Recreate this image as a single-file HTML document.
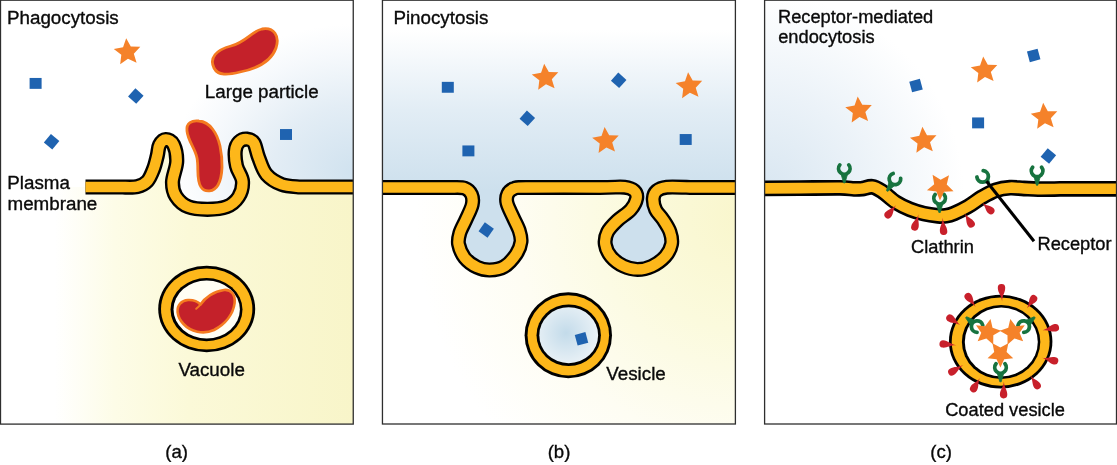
<!DOCTYPE html>
<html><head><meta charset="utf-8"><title>Endocytosis</title>
<style>
html,body{margin:0;padding:0;background:#fff;}
svg{display:block;}
text{font-family:"Liberation Sans",sans-serif;font-size:18px;fill:#0a0a0a;stroke:#0a0a0a;stroke-width:0.35px;filter:url(#gray);}
text.ab{font-size:18.8px;}
text.c{font-size:18.25px;}
text.lab{font-size:18.6px;}
</style></head><body>
<svg width="1117" height="465" viewBox="0 0 1117 465">
<defs>
  <radialGradient id="aBlue" gradientUnits="userSpaceOnUse" cx="356" cy="172" r="185" gradientTransform="translate(0,172) scale(1,0.8) translate(0,-172)">
    <stop offset="0" stop-color="#d0e2ef"/><stop offset="0.45" stop-color="#e3edf5"/><stop offset="0.8" stop-color="#f6f9fc"/><stop offset="1" stop-color="#ffffff"/>
  </radialGradient>
  <linearGradient id="aYel" gradientUnits="userSpaceOnUse" x1="55" y1="0" x2="354" y2="0">
    <stop offset="0" stop-color="#ffffff"/><stop offset="0.2" stop-color="#fdfce7"/><stop offset="0.45" stop-color="#fbf9d8"/><stop offset="1" stop-color="#f8f5c9"/>
  </linearGradient>
  <linearGradient id="bBlue" gradientUnits="userSpaceOnUse" x1="0" y1="30" x2="0" y2="190">
    <stop offset="0" stop-color="#ffffff"/><stop offset="0.5" stop-color="#e2edf5"/><stop offset="1" stop-color="#cde0ed"/>
  </linearGradient>
  <radialGradient id="bYel" gradientUnits="userSpaceOnUse" cx="745" cy="215" r="330">
    <stop offset="0" stop-color="#f9f6cc"/><stop offset="0.35" stop-color="#fbfadd"/><stop offset="0.7" stop-color="#fefdf3"/><stop offset="1" stop-color="#ffffff"/>
  </radialGradient>
  <radialGradient id="bVes" gradientUnits="userSpaceOnUse" cx="566" cy="333" r="32">
    <stop offset="0" stop-color="#c3dbea"/><stop offset="1" stop-color="#e9f1f6"/>
  </radialGradient>
  <radialGradient id="cBlue" gradientUnits="userSpaceOnUse" cx="764" cy="195" r="200">
    <stop offset="0" stop-color="#d8e6f1"/><stop offset="0.5" stop-color="#ebf2f8"/><stop offset="1" stop-color="#ffffff"/>
  </radialGradient>
  <filter id="gray" x="-5%" y="-20%" width="110%" height="140%" color-interpolation-filters="sRGB"><feColorMatrix type="saturate" values="0"/></filter>
  <clipPath id="clipA"><rect x="0" y="0" width="353.3" height="424"/></clipPath>
  <clipPath id="clipB"><rect x="382.4" y="0" width="353" height="424"/></clipPath>
  <clipPath id="clipC"><rect x="764.5" y="0" width="352" height="424"/></clipPath>
  <path id="star" d="M-1.22,-13.95 L3.40,-5.66 L12.89,-5.47 L6.43,1.48 L9.18,10.57 L0.58,6.57 L-7.21,12.00 L-6.08,2.58 L-13.64,-3.15 L-4.33,-4.98 Z" fill="#f5822a"/>
  <path id="star2" d="M-1.18,-13.45 L3.35,-5.57 L12.43,-5.27 L6.33,1.46 L8.86,10.19 L0.57,6.48 L-6.95,11.57 L-5.98,2.54 L-13.15,-3.04 L-4.26,-4.91 Z" fill="#f5822a"/>
  <rect id="sq" x="-6" y="-5.45" width="12" height="10.9" fill="#1f63b0"/>
  <rect id="dm" x="-5.5" y="-5.5" width="11" height="11" fill="#1f63b0"/>
  <g id="recC">
    <path d="M-4.47,-18.0 A5.75,5.75 0 1 0 4.47,-18.0" fill="none" stroke="#17733f" stroke-width="3.8" stroke-linecap="round"/>
    <path d="M-2.6,-8.6 L2.6,-8.6 L1.2,-5 L-1.2,-5 Z" fill="#17733f"/>
  </g>
  <g id="rec">
    <path d="M-4.47,-18.0 A5.75,5.75 0 1 0 4.47,-18.0" fill="none" stroke="#17733f" stroke-width="3.8" stroke-linecap="round"/>
    <path d="M-3.2,-8.6 L3.2,-8.6 L0.7,0 L-0.7,0 Z" fill="#17733f" stroke="#17733f" stroke-width="0.8" stroke-linejoin="round"/>
  </g>
  
</defs>

<!-- ===== PANEL A ===== -->
<g clip-path="url(#clipA)">
  <rect x="0" y="0" width="354" height="424" fill="#fff"/>
  <path d="M0,187 L122.0,187.0 C124.5,186.9 133.0,187.6 137.2,186.6 C141.4,185.6 144.7,184.0 147.4,181.1 C150.1,178.2 151.9,173.2 153.6,168.9 C155.2,164.7 156.3,159.6 157.3,155.6 C158.3,151.6 158.1,147.7 159.5,145.0 C160.9,142.3 163.5,139.6 165.8,139.5 C168.1,139.4 171.7,140.8 173.5,144.5 C175.3,148.2 176.9,155.4 176.7,161.7 C176.5,167.9 172.6,176.2 172.5,182.0 C172.4,187.8 173.4,192.3 176.0,196.4 C178.6,200.5 183.1,204.7 188.3,206.8 C193.5,209.0 201.0,209.3 207.4,209.3 C213.8,209.3 221.3,208.9 226.5,206.8 C231.7,204.8 235.8,201.2 238.5,197.0 C241.2,192.8 242.8,186.7 242.5,181.5 C242.2,176.3 237.7,171.2 236.5,166.0 C235.3,160.8 234.9,154.6 235.3,150.6 C235.7,146.6 237.1,143.9 239.0,142.0 C240.9,140.1 244.5,138.9 247.0,139.1 C249.5,139.3 252.1,139.9 254.0,143.0 C255.9,146.1 256.6,152.4 258.7,157.7 C260.8,162.9 262.6,170.0 266.5,174.5 C270.4,179.0 276.2,182.4 281.8,184.5 C287.4,186.6 297.0,186.6 300.0,187.0 H354 V0 H0 Z" fill="url(#aBlue)"/>
  <path d="M0,187 L122.0,187.0 C124.5,186.9 133.0,187.6 137.2,186.6 C141.4,185.6 144.7,184.0 147.4,181.1 C150.1,178.2 151.9,173.2 153.6,168.9 C155.2,164.7 156.3,159.6 157.3,155.6 C158.3,151.6 158.1,147.7 159.5,145.0 C160.9,142.3 163.5,139.6 165.8,139.5 C168.1,139.4 171.7,140.8 173.5,144.5 C175.3,148.2 176.9,155.4 176.7,161.7 C176.5,167.9 172.6,176.2 172.5,182.0 C172.4,187.8 173.4,192.3 176.0,196.4 C178.6,200.5 183.1,204.7 188.3,206.8 C193.5,209.0 201.0,209.3 207.4,209.3 C213.8,209.3 221.3,208.9 226.5,206.8 C231.7,204.8 235.8,201.2 238.5,197.0 C241.2,192.8 242.8,186.7 242.5,181.5 C242.2,176.3 237.7,171.2 236.5,166.0 C235.3,160.8 234.9,154.6 235.3,150.6 C235.7,146.6 237.1,143.9 239.0,142.0 C240.9,140.1 244.5,138.9 247.0,139.1 C249.5,139.3 252.1,139.9 254.0,143.0 C255.9,146.1 256.6,152.4 258.7,157.7 C260.8,162.9 262.6,170.0 266.5,174.5 C270.4,179.0 276.2,182.4 281.8,184.5 C287.4,186.6 297.0,186.6 300.0,187.0 H354 V424 H0 Z" fill="url(#aYel)"/>
</g>
<g fill="none" stroke-linejoin="round"><path d="M85.5,187 L122.0,187.0 C124.5,186.9 133.0,187.6 137.2,186.6 C141.4,185.6 144.7,184.0 147.4,181.1 C150.1,178.2 151.9,173.2 153.6,168.9 C155.2,164.7 156.3,159.6 157.3,155.6 C158.3,151.6 158.1,147.7 159.5,145.0 C160.9,142.3 163.5,139.6 165.8,139.5 C168.1,139.4 171.7,140.8 173.5,144.5 C175.3,148.2 176.9,155.4 176.7,161.7 C176.5,167.9 172.6,176.2 172.5,182.0 C172.4,187.8 173.4,192.3 176.0,196.4 C178.6,200.5 183.1,204.7 188.3,206.8 C193.5,209.0 201.0,209.3 207.4,209.3 C213.8,209.3 221.3,208.9 226.5,206.8 C231.7,204.8 235.8,201.2 238.5,197.0 C241.2,192.8 242.8,186.7 242.5,181.5 C242.2,176.3 237.7,171.2 236.5,166.0 C235.3,160.8 234.9,154.6 235.3,150.6 C235.7,146.6 237.1,143.9 239.0,142.0 C240.9,140.1 244.5,138.9 247.0,139.1 C249.5,139.3 252.1,139.9 254.0,143.0 C255.9,146.1 256.6,152.4 258.7,157.7 C260.8,162.9 262.6,170.0 266.5,174.5 C270.4,179.0 276.2,182.4 281.8,184.5 C287.4,186.6 297.0,186.6 300.0,187.0 H353" stroke="#000" stroke-width="15.2"/><path d="M85.5,187 L122.0,187.0 C124.5,186.9 133.0,187.6 137.2,186.6 C141.4,185.6 144.7,184.0 147.4,181.1 C150.1,178.2 151.9,173.2 153.6,168.9 C155.2,164.7 156.3,159.6 157.3,155.6 C158.3,151.6 158.1,147.7 159.5,145.0 C160.9,142.3 163.5,139.6 165.8,139.5 C168.1,139.4 171.7,140.8 173.5,144.5 C175.3,148.2 176.9,155.4 176.7,161.7 C176.5,167.9 172.6,176.2 172.5,182.0 C172.4,187.8 173.4,192.3 176.0,196.4 C178.6,200.5 183.1,204.7 188.3,206.8 C193.5,209.0 201.0,209.3 207.4,209.3 C213.8,209.3 221.3,208.9 226.5,206.8 C231.7,204.8 235.8,201.2 238.5,197.0 C241.2,192.8 242.8,186.7 242.5,181.5 C242.2,176.3 237.7,171.2 236.5,166.0 C235.3,160.8 234.9,154.6 235.3,150.6 C235.7,146.6 237.1,143.9 239.0,142.0 C240.9,140.1 244.5,138.9 247.0,139.1 C249.5,139.3 252.1,139.9 254.0,143.0 C255.9,146.1 256.6,152.4 258.7,157.7 C260.8,162.9 262.6,170.0 266.5,174.5 C270.4,179.0 276.2,182.4 281.8,184.5 C287.4,186.6 297.0,186.6 300.0,187.0 H353" stroke="#fdb71a" stroke-width="10.4"/></g>
<!-- large particle -->
<path d="M214,68 C209,58 216,50 231,46 C246,42 252,31 262,29 C274,27 280,36 276,48 C271,62 255,69 240,72 C228,75 218,76 214,68 Z" fill="#c4212a" stroke="#f47a20" stroke-width="2.8"/>
<!-- particle in cup -->
<path d="M187,131 C186,123 192,120 199,121 C210,122 217,133 220,146 C223,160 223,176 218,185 C214,192 205,193 201,187 C196,180 199,168 197,158 C195,148 188,141 187,131 Z" fill="#c4212a" stroke="#f47a20" stroke-width="2.8"/>
<use href="#star" x="127.4" y="52.2"/>
<use href="#sq" x="35.6" y="83.4"/>
<use href="#dm" transform="translate(135.8,96.1) rotate(42)"/>
<use href="#dm" transform="translate(51.6,141.7) rotate(40)"/>
<use href="#sq" x="286" y="134.5"/>
<!-- vacuole -->
<ellipse cx="206.7" cy="309" rx="48.5" ry="43.3" fill="#000"/>
<ellipse cx="206.7" cy="309" rx="45.7" ry="40.5" fill="#fdb71a"/>
<ellipse cx="206.5" cy="309.6" rx="36" ry="31.6" fill="#000"/>
<ellipse cx="206.7" cy="309.5" rx="33.2" ry="28.9" fill="#fffef4"/>
<path d="M177.6,312 C177,305 181.5,300.4 188,300 C194,299.7 198,301.8 200.5,304.5 C205,297.5 214,291.2 224,290 C231.5,289.2 235.5,295 234.6,303 C233.2,314 225.5,324 214,330 C203,335 190.5,331.5 183.5,324 C179.5,319.8 178,316 177.6,312 Z" fill="#c4212a" stroke="#f47a20" stroke-width="2.6" stroke-linejoin="round"/>
<path d="M200.7,304.3 C199.3,306 197.8,307.5 196.2,308.8" fill="none" stroke="#f47a20" stroke-width="2" stroke-linecap="round"/>
<text class="ab" x="7" y="24.1">Phagocytosis</text>
<text class="ab" x="204.8" y="98.3">Large particle</text>
<text class="ab" x="7.3" y="189.2">Plasma</text>
<text class="ab" x="7.5" y="210">membrane</text>
<text class="ab" x="178.4" y="375.5">Vacuole</text>
<text class="lab" x="176.7" y="457.6" text-anchor="middle">(a)</text>
<rect x="0.5" y="0.2" width="352.75" height="423.9" fill="none" stroke="#2e2e2e" stroke-width="1.3"/>

<!-- ===== PANEL B ===== -->
<g clip-path="url(#clipB)">
  <rect x="382" y="0" width="354" height="424" fill="#fff"/>
  <path d="M382,187.5 L452.0,187.5 C454.1,187.6 461.6,187.0 464.8,188.2 C468.1,189.4 470.3,191.8 471.5,194.5 C472.7,197.2 473.1,200.5 472.2,204.7 C471.3,208.9 468.1,214.8 466.0,219.5 C463.9,224.2 461.0,229.0 459.8,233.1 C458.6,237.2 457.8,240.2 458.6,244.3 C459.4,248.4 461.7,254.1 464.8,257.9 C467.9,261.7 472.9,265.2 477.1,267.2 C481.3,269.2 485.2,270.1 489.8,270.0 C494.4,269.9 500.0,269.1 504.4,266.5 C508.8,263.9 513.4,258.3 516.2,254.2 C519.0,250.1 520.5,245.7 521.0,241.8 C521.5,237.9 520.5,234.7 519.2,230.6 C517.9,226.5 515.0,221.6 513.0,217.0 C511.0,212.4 507.9,206.9 507.0,203.0 C506.1,199.1 506.6,196.2 507.8,193.8 C509.0,191.4 511.3,189.5 514.3,188.4 C517.3,187.3 511.7,187.7 526.0,187.5 C540.3,187.3 583.5,187.6 600.0,187.5 C616.5,187.4 619.0,186.6 624.7,187.2 C630.4,187.8 632.2,188.9 634.2,190.8 C636.2,192.7 637.2,195.4 636.6,198.5 C636.0,201.6 634.0,205.9 630.8,209.6 C627.6,213.3 621.1,217.0 617.2,220.7 C613.3,224.4 609.6,228.0 607.6,231.9 C605.6,235.8 604.7,240.2 605.3,244.3 C605.9,248.4 608.0,253.0 611.0,256.6 C614.0,260.2 619.0,263.9 623.4,266.0 C627.8,268.1 632.8,269.4 637.5,269.4 C642.2,269.4 647.3,268.3 651.9,266.2 C656.5,264.1 661.9,260.2 665.2,256.6 C668.5,253.0 670.7,248.4 671.5,244.3 C672.3,240.2 671.4,236.0 670.0,231.9 C668.6,227.8 665.4,223.2 663.0,219.5 C660.6,215.8 657.2,213.1 655.6,209.6 C654.0,206.1 653.1,201.6 653.3,198.5 C653.5,195.4 654.6,192.7 656.8,190.8 C659.0,188.9 661.2,187.8 666.7,187.2 C672.2,186.6 686.1,187.4 690.0,187.5 H737 V424 H382 Z" fill="url(#bYel)"/>
  <path d="M382,187.5 L452.0,187.5 C454.1,187.6 461.6,187.0 464.8,188.2 C468.1,189.4 470.3,191.8 471.5,194.5 C472.7,197.2 473.1,200.5 472.2,204.7 C471.3,208.9 468.1,214.8 466.0,219.5 C463.9,224.2 461.0,229.0 459.8,233.1 C458.6,237.2 457.8,240.2 458.6,244.3 C459.4,248.4 461.7,254.1 464.8,257.9 C467.9,261.7 472.9,265.2 477.1,267.2 C481.3,269.2 485.2,270.1 489.8,270.0 C494.4,269.9 500.0,269.1 504.4,266.5 C508.8,263.9 513.4,258.3 516.2,254.2 C519.0,250.1 520.5,245.7 521.0,241.8 C521.5,237.9 520.5,234.7 519.2,230.6 C517.9,226.5 515.0,221.6 513.0,217.0 C511.0,212.4 507.9,206.9 507.0,203.0 C506.1,199.1 506.6,196.2 507.8,193.8 C509.0,191.4 511.3,189.5 514.3,188.4 C517.3,187.3 511.7,187.7 526.0,187.5 C540.3,187.3 583.5,187.6 600.0,187.5 C616.5,187.4 619.0,186.6 624.7,187.2 C630.4,187.8 632.2,188.9 634.2,190.8 C636.2,192.7 637.2,195.4 636.6,198.5 C636.0,201.6 634.0,205.9 630.8,209.6 C627.6,213.3 621.1,217.0 617.2,220.7 C613.3,224.4 609.6,228.0 607.6,231.9 C605.6,235.8 604.7,240.2 605.3,244.3 C605.9,248.4 608.0,253.0 611.0,256.6 C614.0,260.2 619.0,263.9 623.4,266.0 C627.8,268.1 632.8,269.4 637.5,269.4 C642.2,269.4 647.3,268.3 651.9,266.2 C656.5,264.1 661.9,260.2 665.2,256.6 C668.5,253.0 670.7,248.4 671.5,244.3 C672.3,240.2 671.4,236.0 670.0,231.9 C668.6,227.8 665.4,223.2 663.0,219.5 C660.6,215.8 657.2,213.1 655.6,209.6 C654.0,206.1 653.1,201.6 653.3,198.5 C653.5,195.4 654.6,192.7 656.8,190.8 C659.0,188.9 661.2,187.8 666.7,187.2 C672.2,186.6 686.1,187.4 690.0,187.5 H737 V0 H382 Z" fill="url(#bBlue)"/>
</g>
<g fill="none" stroke-linejoin="round"><path d="M382.5,187.5 L452.0,187.5 C454.1,187.6 461.6,187.0 464.8,188.2 C468.1,189.4 470.3,191.8 471.5,194.5 C472.7,197.2 473.1,200.5 472.2,204.7 C471.3,208.9 468.1,214.8 466.0,219.5 C463.9,224.2 461.0,229.0 459.8,233.1 C458.6,237.2 457.8,240.2 458.6,244.3 C459.4,248.4 461.7,254.1 464.8,257.9 C467.9,261.7 472.9,265.2 477.1,267.2 C481.3,269.2 485.2,270.1 489.8,270.0 C494.4,269.9 500.0,269.1 504.4,266.5 C508.8,263.9 513.4,258.3 516.2,254.2 C519.0,250.1 520.5,245.7 521.0,241.8 C521.5,237.9 520.5,234.7 519.2,230.6 C517.9,226.5 515.0,221.6 513.0,217.0 C511.0,212.4 507.9,206.9 507.0,203.0 C506.1,199.1 506.6,196.2 507.8,193.8 C509.0,191.4 511.3,189.5 514.3,188.4 C517.3,187.3 511.7,187.7 526.0,187.5 C540.3,187.3 583.5,187.6 600.0,187.5 C616.5,187.4 619.0,186.6 624.7,187.2 C630.4,187.8 632.2,188.9 634.2,190.8 C636.2,192.7 637.2,195.4 636.6,198.5 C636.0,201.6 634.0,205.9 630.8,209.6 C627.6,213.3 621.1,217.0 617.2,220.7 C613.3,224.4 609.6,228.0 607.6,231.9 C605.6,235.8 604.7,240.2 605.3,244.3 C605.9,248.4 608.0,253.0 611.0,256.6 C614.0,260.2 619.0,263.9 623.4,266.0 C627.8,268.1 632.8,269.4 637.5,269.4 C642.2,269.4 647.3,268.3 651.9,266.2 C656.5,264.1 661.9,260.2 665.2,256.6 C668.5,253.0 670.7,248.4 671.5,244.3 C672.3,240.2 671.4,236.0 670.0,231.9 C668.6,227.8 665.4,223.2 663.0,219.5 C660.6,215.8 657.2,213.1 655.6,209.6 C654.0,206.1 653.1,201.6 653.3,198.5 C653.5,195.4 654.6,192.7 656.8,190.8 C659.0,188.9 661.2,187.8 666.7,187.2 C672.2,186.6 686.1,187.4 690.0,187.5 H735.4" stroke="#000" stroke-width="15"/><path d="M382.5,187.5 L452.0,187.5 C454.1,187.6 461.6,187.0 464.8,188.2 C468.1,189.4 470.3,191.8 471.5,194.5 C472.7,197.2 473.1,200.5 472.2,204.7 C471.3,208.9 468.1,214.8 466.0,219.5 C463.9,224.2 461.0,229.0 459.8,233.1 C458.6,237.2 457.8,240.2 458.6,244.3 C459.4,248.4 461.7,254.1 464.8,257.9 C467.9,261.7 472.9,265.2 477.1,267.2 C481.3,269.2 485.2,270.1 489.8,270.0 C494.4,269.9 500.0,269.1 504.4,266.5 C508.8,263.9 513.4,258.3 516.2,254.2 C519.0,250.1 520.5,245.7 521.0,241.8 C521.5,237.9 520.5,234.7 519.2,230.6 C517.9,226.5 515.0,221.6 513.0,217.0 C511.0,212.4 507.9,206.9 507.0,203.0 C506.1,199.1 506.6,196.2 507.8,193.8 C509.0,191.4 511.3,189.5 514.3,188.4 C517.3,187.3 511.7,187.7 526.0,187.5 C540.3,187.3 583.5,187.6 600.0,187.5 C616.5,187.4 619.0,186.6 624.7,187.2 C630.4,187.8 632.2,188.9 634.2,190.8 C636.2,192.7 637.2,195.4 636.6,198.5 C636.0,201.6 634.0,205.9 630.8,209.6 C627.6,213.3 621.1,217.0 617.2,220.7 C613.3,224.4 609.6,228.0 607.6,231.9 C605.6,235.8 604.7,240.2 605.3,244.3 C605.9,248.4 608.0,253.0 611.0,256.6 C614.0,260.2 619.0,263.9 623.4,266.0 C627.8,268.1 632.8,269.4 637.5,269.4 C642.2,269.4 647.3,268.3 651.9,266.2 C656.5,264.1 661.9,260.2 665.2,256.6 C668.5,253.0 670.7,248.4 671.5,244.3 C672.3,240.2 671.4,236.0 670.0,231.9 C668.6,227.8 665.4,223.2 663.0,219.5 C660.6,215.8 657.2,213.1 655.6,209.6 C654.0,206.1 653.1,201.6 653.3,198.5 C653.5,195.4 654.6,192.7 656.8,190.8 C659.0,188.9 661.2,187.8 666.7,187.2 C672.2,186.6 686.1,187.4 690.0,187.5 H735.4" stroke="#fdb71a" stroke-width="10.3"/></g>
<use href="#sq" x="447.8" y="87.3"/>
<use href="#sq" x="468.4" y="150.9"/>
<use href="#dm" transform="translate(527.3,118.3) rotate(42)"/>
<use href="#dm" transform="translate(618.7,80.3) rotate(42)"/>
<use href="#sq" x="685.7" y="139.5"/>
<use href="#dm" transform="translate(486.2,230) rotate(35)"/>
<use href="#star" x="545.4" y="77.7"/>
<use href="#star" x="605.8" y="140.9"/>
<use href="#star" x="689.3" y="86.2"/>
<!-- vesicle -->
<ellipse cx="568.3" cy="335.3" rx="43.7" ry="43" fill="#000"/>
<ellipse cx="568.3" cy="335.3" rx="40.8" ry="40.1" fill="#fdb71a"/>
<ellipse cx="568.7" cy="335.2" rx="32.2" ry="30.8" fill="#000"/>
<ellipse cx="568.7" cy="335.2" rx="29.4" ry="28" fill="url(#bVes)"/>
<use href="#dm" transform="translate(581.5,338.8) rotate(-15)"/>
<text class="ab" x="393.4" y="23.9">Pinocytosis</text>
<text class="ab" x="606.3" y="379.5">Vesicle</text>
<text class="lab" x="559" y="457.6" text-anchor="middle">(b)</text>
<rect x="382.45" y="0.2" width="352.95" height="423.8" fill="none" stroke="#2e2e2e" stroke-width="1.3"/>

<!-- ===== PANEL C ===== -->
<g clip-path="url(#clipC)">
  <rect x="764" y="0" width="353" height="424" fill="#fff"/>
  <path d="M764,188.4 L800.0,188.1 C806.7,188.1 831.0,187.7 840.0,187.8 C849.0,187.9 850.3,188.8 854.0,188.9 C857.7,189.0 859.0,188.9 862.0,188.6 C865.0,188.2 868.9,186.4 872.2,186.8 C875.5,187.2 878.0,188.7 882.0,191.3 C886.0,193.9 891.3,199.4 896.0,202.4 C900.7,205.4 905.3,207.5 910.0,209.4 C914.7,211.3 919.3,212.5 924.0,213.6 C928.7,214.7 934.3,215.4 938.0,215.8 C941.7,216.2 943.3,216.2 946.0,215.8 C948.7,215.4 950.3,215.1 954.0,213.5 C957.7,211.9 963.3,209.2 968.0,206.5 C972.7,203.8 977.3,199.9 982.0,197.2 C986.7,194.5 991.3,191.8 996.0,190.2 C1000.7,188.6 1005.3,188.0 1010.0,187.7 C1014.7,187.4 1019.3,188.3 1024.0,188.5 C1028.7,188.7 1032.0,189.0 1038.0,189.1 C1044.0,189.2 1056.3,188.9 1060.0,188.8 H1117 V0 H764 Z" fill="url(#cBlue)"/>
</g>
<g fill="none" stroke-linejoin="round"><path d="M764.5,188.4 L800.0,188.1 C806.7,188.1 831.0,187.7 840.0,187.8 C849.0,187.9 850.3,188.8 854.0,188.9 C857.7,189.0 859.0,188.9 862.0,188.6 C865.0,188.2 868.9,186.4 872.2,186.8 C875.5,187.2 878.0,188.7 882.0,191.3 C886.0,193.9 891.3,199.4 896.0,202.4 C900.7,205.4 905.3,207.5 910.0,209.4 C914.7,211.3 919.3,212.5 924.0,213.6 C928.7,214.7 934.3,215.4 938.0,215.8 C941.7,216.2 943.3,216.2 946.0,215.8 C948.7,215.4 950.3,215.1 954.0,213.5 C957.7,211.9 963.3,209.2 968.0,206.5 C972.7,203.8 977.3,199.9 982.0,197.2 C986.7,194.5 991.3,191.8 996.0,190.2 C1000.7,188.6 1005.3,188.0 1010.0,187.7 C1014.7,187.4 1019.3,188.3 1024.0,188.5 C1028.7,188.7 1032.0,189.0 1038.0,189.1 C1044.0,189.2 1056.3,188.9 1060.0,188.8 H1116.5" stroke="#000" stroke-width="15.8"/><path d="M764.5,188.4 L800.0,188.1 C806.7,188.1 831.0,187.7 840.0,187.8 C849.0,187.9 850.3,188.8 854.0,188.9 C857.7,189.0 859.0,188.9 862.0,188.6 C865.0,188.2 868.9,186.4 872.2,186.8 C875.5,187.2 878.0,188.7 882.0,191.3 C886.0,193.9 891.3,199.4 896.0,202.4 C900.7,205.4 905.3,207.5 910.0,209.4 C914.7,211.3 919.3,212.5 924.0,213.6 C928.7,214.7 934.3,215.4 938.0,215.8 C941.7,216.2 943.3,216.2 946.0,215.8 C948.7,215.4 950.3,215.1 954.0,213.5 C957.7,211.9 963.3,209.2 968.0,206.5 C972.7,203.8 977.3,199.9 982.0,197.2 C986.7,194.5 991.3,191.8 996.0,190.2 C1000.7,188.6 1005.3,188.0 1010.0,187.7 C1014.7,187.4 1019.3,188.3 1024.0,188.5 C1028.7,188.7 1032.0,189.0 1038.0,189.1 C1044.0,189.2 1056.3,188.9 1060.0,188.8 H1116.5" stroke="#fdb71a" stroke-width="10.6"/></g>
<!-- clathrin on membrane -->
<path d="M896.1,204.9 C892.8,209.7 893.9,213.5 890.8,217.3 A3.7,3.7 0 0 1 885.1,212.6 C888.2,208.8 892.1,209.2 896.1,204.9 Z" fill="#c8202b"/>
<path d="M918.6,214.2 C917.3,220.1 919.8,223.2 918.4,228.1 A3.7,3.7 0 0 1 911.3,226.0 C912.7,221.1 916.5,219.9 918.6,214.2 Z" fill="#c8202b"/>
<path d="M942.6,217.7 C943.4,223.8 946.9,225.8 947.3,230.9 A3.7,3.7 0 0 1 939.9,231.5 C939.5,226.4 942.6,223.8 942.6,217.7 Z" fill="#c8202b"/>
<path d="M964.5,213.2 C967.8,217.8 971.7,217.9 974.3,222.0 A3.7,3.7 0 0 1 968.0,225.9 C965.5,221.8 967.1,218.2 964.5,213.2 Z" fill="#c8202b"/>
<path d="M982.2,202.7 C986.5,206.1 990.2,205.1 993.6,208.2 A3.7,3.7 0 0 1 988.6,213.6 C985.2,210.5 985.9,206.7 982.2,202.7 Z" fill="#c8202b"/>
<!-- receptors -->
<use href="#rec" transform="translate(844.3,182.9)"/>
<use href="#rec" transform="translate(887.1,191) rotate(33)"/>
<use href="#rec" transform="translate(939.6,212.5)"/>
<use href="#recC" transform="translate(992.8,186.6) rotate(-45)"/>
<use href="#rec" transform="translate(1037.1,185.2)"/>
<line x1="986.5" y1="181.3" x2="1034" y2="241.2" stroke="#000" stroke-width="3.1"/>
<use href="#star" transform="translate(940.4,186.4) rotate(187)"/>
<use href="#star" x="858.9" y="110.5"/>
<use href="#star" x="923.6" y="140.8"/>
<use href="#star" x="984.4" y="70.4"/>
<use href="#star" x="1044.4" y="116.8"/>
<use href="#dm" transform="translate(916,85.6) rotate(-15)"/>
<use href="#sq" x="978.1" y="122.9"/>
<use href="#dm" transform="translate(1033.7,55.4) rotate(-15)"/>
<use href="#dm" transform="translate(1048.4,156) rotate(40)"/>
<!-- coated vesicle -->
<ellipse cx="1000.65" cy="341.65" rx="51.75" ry="46.85" fill="#000"/>
<ellipse cx="1000.65" cy="341.65" rx="48.95" ry="44.05" fill="#fdb71a"/>
<ellipse cx="1001.1" cy="342" rx="39.2" ry="37.1" fill="#000"/>
<ellipse cx="1001.3" cy="342" rx="36.5" ry="34.4" fill="#fff"/>
<path d="M1002.1,301.4 C1001.4,295.3 998.0,293.1 997.8,288.0 A3.7,3.7 0 0 1 1005.2,287.6 C1005.4,292.8 1002.2,295.3 1002.1,301.4 Z" fill="#c8202b"/>
<path d="M1027.0,308.3 C1029.7,303.6 1028.2,300.0 1030.8,296.3 A3.7,3.7 0 0 1 1036.9,300.4 C1034.3,304.2 1030.4,304.0 1027.0,308.3 Z" fill="#c8202b"/>
<path d="M1042.7,330.3 C1048.3,328.7 1049.8,325.1 1054.6,324.1 A3.7,3.7 0 0 1 1056.1,331.4 C1051.3,332.3 1048.5,329.5 1042.7,330.3 Z" fill="#c8202b"/>
<path d="M1042.1,357.7 C1047.8,358.7 1050.7,356.0 1055.5,357.2 A3.7,3.7 0 0 1 1053.7,364.4 C1048.9,363.2 1047.6,359.5 1042.1,357.7 Z" fill="#c8202b"/>
<path d="M1030.3,375.3 C1033.8,379.9 1037.8,379.8 1040.5,383.9 A3.7,3.7 0 0 1 1034.4,388.0 C1031.7,384.0 1033.2,380.3 1030.3,375.3 Z" fill="#c8202b"/>
<path d="M1003.9,381.5 C1004.2,387.5 1007.4,389.8 1007.3,394.8 A3.7,3.7 0 0 1 999.9,394.6 C1000.0,389.6 1003.4,387.4 1003.9,381.5 Z" fill="#c8202b"/>
<path d="M979.9,378.1 C977.5,383.1 979.2,386.6 976.9,390.6 A3.7,3.7 0 0 1 970.5,386.8 C972.9,382.8 976.8,382.7 979.9,378.1 Z" fill="#c8202b"/>
<path d="M963.2,365.1 C958.3,368.5 958.1,372.5 953.8,375.1 A3.7,3.7 0 0 1 949.9,368.8 C954.3,366.2 957.9,367.8 963.2,365.1 Z" fill="#c8202b"/>
<path d="M956.3,345.3 C950.1,345.1 947.5,348.1 942.3,347.6 A3.7,3.7 0 0 1 943.0,340.3 C948.2,340.8 950.2,344.3 956.3,345.3 Z" fill="#c8202b"/>
<path d="M960.3,325.1 C955.2,322.2 951.6,323.7 947.5,320.9 A3.7,3.7 0 0 1 951.6,314.8 C955.7,317.6 955.7,321.5 960.3,325.1 Z" fill="#c8202b"/>
<path d="M975.7,306.9 C972.0,302.5 968.0,302.7 965.2,298.8 A3.7,3.7 0 0 1 971.2,294.4 C974.0,298.3 972.6,302.0 975.7,306.9 Z" fill="#c8202b"/>
<use href="#rec" transform="translate(966.1,317.3) rotate(130)"/>
<use href="#rec" transform="translate(1034.7,317.3) rotate(-130)"/>
<use href="#rec" transform="translate(1000.5,381.8)"/>
<use href="#star2" transform="translate(987.7,332.1) rotate(17)"/>
<use href="#star2" transform="translate(1013.1,332.1) rotate(-7)"/>
<use href="#star2" transform="translate(1000.4,354.1) rotate(185)"/>
<text class="c" x="778" y="23.2">Receptor-mediated</text>
<text class="c" x="778.2" y="43.3">endocytosis</text>
<text class="c" x="911" y="253.3">Clathrin</text>
<text class="c" x="1037.5" y="249.8">Receptor</text>
<text class="c" x="945.2" y="416.3">Coated vesicle</text>
<text class="lab" x="941.1" y="457.6" text-anchor="middle">(c)</text>
<rect x="764.6" y="0.2" width="351.9" height="423.8" fill="none" stroke="#2e2e2e" stroke-width="1.3"/>
</svg>
</body></html>
